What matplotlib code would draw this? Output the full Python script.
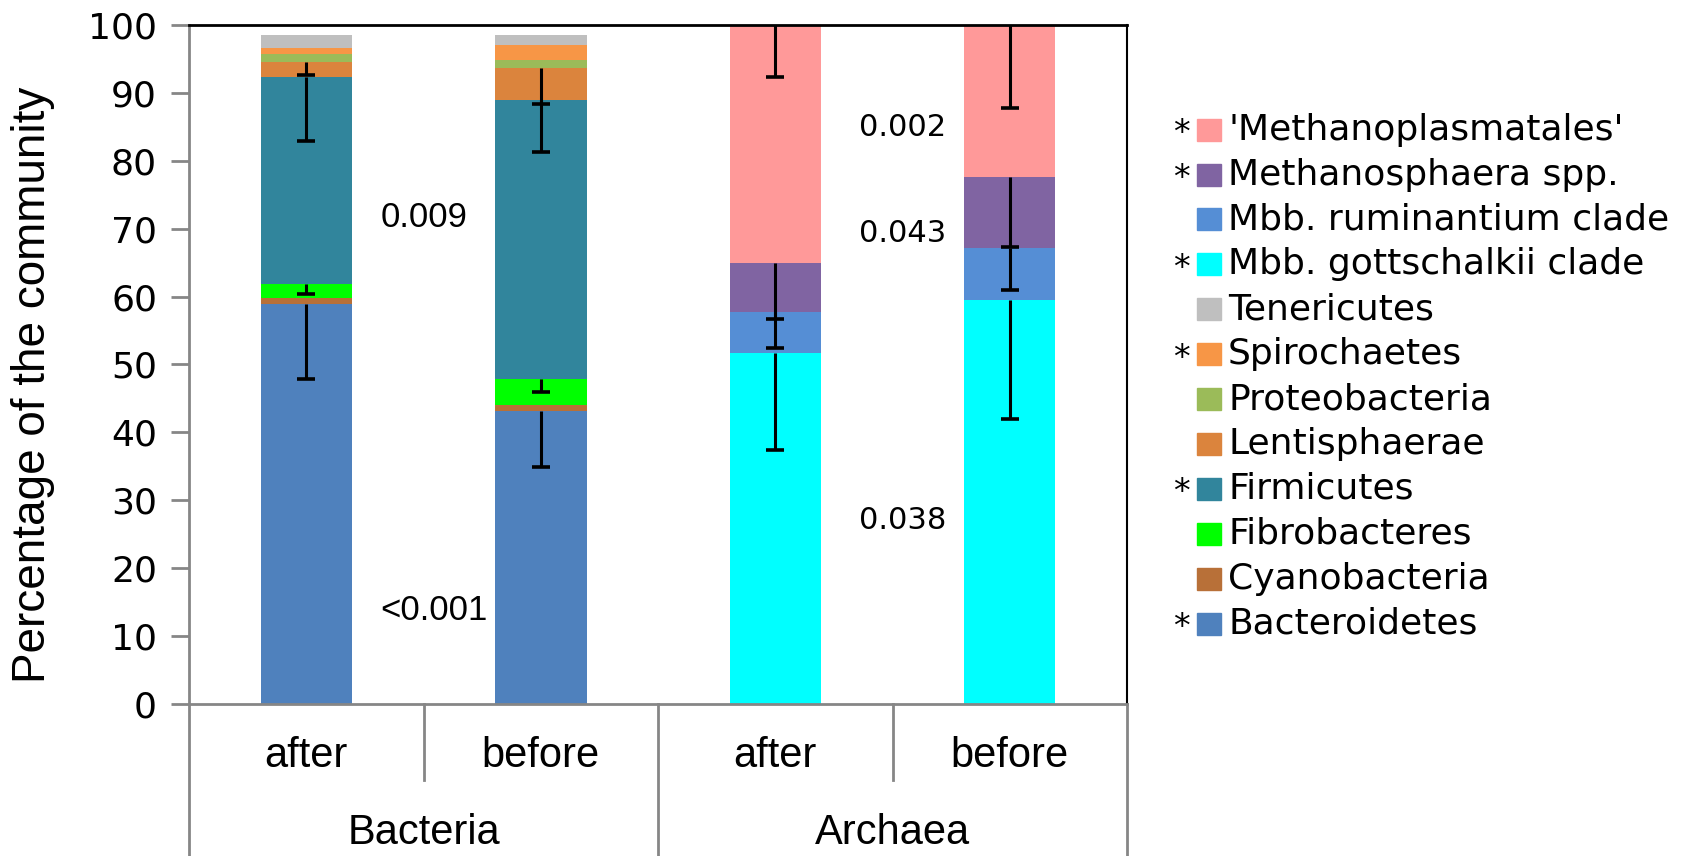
import numpy as np
import matplotlib
matplotlib.use('Agg')
import matplotlib.pyplot as plt
from matplotlib.patches import Rectangle

# bar order: Bacteria after, Bacteria before, Archaea after, Archaea before
conditions = ['after', 'before', 'after', 'before']
groups = ['Bacteria', 'Archaea']

# stacking order from bottom to top
taxa = ['Bacteroidetes', 'Cyanobacteria', 'Fibrobacteres', 'Firmicutes', 'Lentisphaerae',
        'Proteobacteria', 'Spirochaetes', 'Tenericutes', 'Mbb. gottschalkii clade',
        'Mbb. ruminantium clade', 'Methanosphaera spp.', "'Methanoplasmatales'"]
significant = [True, False, False, True, False, False, True, False, True, False, True, True]
colours = ['#4F81BD', '#B87038', '#00FF00', '#31859C', '#DB843D', '#9BBB59', '#F79646',
           '#BFBFBF', '#00FFFF', '#558ED5', '#8064A2', '#FF9999']

bacteroidetes = [58.9, 43.1, 0, 0]
cyanobacteria = [0.9, 1.0, 0, 0]
fibrobacteres = [2.1, 3.7, 0, 0]
firmicutes = [30.4, 41.1, 0, 0]
lentisphaerae = [2.2, 4.8, 0, 0]
proteobacteria = [1.3, 1.1, 0, 0]
spirochaetes = [0.8, 2.2, 0, 0]
tenericutes = [1.9, 1.5, 0, 0]
gottschalkii = [0, 0, 51.7, 59.5]
ruminantium = [0, 0, 6.0, 7.6]
methanosphaera = [0, 0, 7.3, 10.5]
methanoplasmatales = [0, 0, 35.0, 22.4]

# minus-only error bars (same order as taxa)
err_bacteroidetes = [11.1, 8.2, 0, 0]
err_cyanobacteria = [0, 0, 0, 0]
err_fibrobacteres = [1.5, 1.9, 0, 0]
err_firmicutes = [9.4, 7.6, 0, 0]
err_lentisphaerae = [1.8, 5.3, 0, 0]
err_proteobacteria = [0, 0, 0, 0]
err_spirochaetes = [0, 0, 0, 0]
err_tenericutes = [0, 0, 0, 0]
err_gottschalkii = [0, 0, 14.3, 17.6]
err_ruminantium = [0, 0, 5.3, 6.2]
err_methanosphaera = [0, 0, 8.3, 10.3]
err_methanoplasmatales = [0, 0, 7.6, 12.2]

pvalues = ['0.009', '<0.001', '0.002', '0.043', '0.038']
pvalue_x = [0.315, 0.315, 2.357, 2.357, 2.357]
pvalue_y = [71.7, 13.7, 84.9, 69.3, 27.0]

values = [bacteroidetes, cyanobacteria, fibrobacteres, firmicutes, lentisphaerae, proteobacteria,
          spirochaetes, tenericutes, gottschalkii, ruminantium, methanosphaera, methanoplasmatales]
errors = [err_bacteroidetes, err_cyanobacteria, err_fibrobacteres, err_firmicutes, err_lentisphaerae,
          err_proteobacteria, err_spirochaetes, err_tenericutes, err_gottschalkii, err_ruminantium,
          err_methanosphaera, err_methanoplasmatales]

fig = plt.figure(figsize=(16.94, 8.56), dpi=100)
ax = fig.add_axes([0.1116, 0.1776, 0.5537, 0.7932])

x = np.arange(len(conditions))
bottom = np.zeros(len(conditions))
for vals, col in zip(values, colours):
    ax.bar(x, vals, 0.39, bottom=bottom, color=col, edgecolor='none', zorder=2)
    bottom += np.array(vals)

# error bars drawn from the top of each segment, downwards only, cap at the lower end
bottom = np.zeros(len(conditions))
for vals, errs in zip(values, errors):
    top = bottom + np.array(vals)
    for i in range(len(conditions)):
        if errs[i] > 0:
            ax.errorbar(x[i], top[i], yerr=[[errs[i]], [0]], fmt='none', ecolor='black',
                        elinewidth=2.2, capsize=0, zorder=3, clip_on=False)
            ax.plot(x[i], top[i] - errs[i], marker='_', color='black', markersize=13,
                    markeredgewidth=2.6, zorder=3)
    bottom = top

for txt, tx, ty in zip(pvalues[:2], pvalue_x[:2], pvalue_y[:2]):
    ax.text(tx, ty, txt, ha='left', va='center', fontsize=25, family='Liberation Sans')
for txt, tx, ty in zip(pvalues[2:], pvalue_x[2:], pvalue_y[2:]):
    ax.text(tx, ty, txt, ha='left', va='center', fontsize=22, family='DejaVu Sans')

ax.set_xlim(-0.5, 3.5)
ax.set_ylim(0, 100)
ax.set_yticks(np.arange(0, 101, 10))
ax.set_yticklabels([str(v) for v in range(0, 101, 10)], fontsize=26, family='DejaVu Sans')
ax.tick_params(axis='y', direction='out', length=13, width=2, color='#868686', pad=10)
ax.set_xticks([])
ax.set_ylabel('Percentage of the community', fontsize=33, family='Liberation Sans')
ax.yaxis.set_label_coords(-0.143, 0.47)

ax.spines['left'].set_color('#868686')
ax.spines['left'].set_linewidth(2)
ax.spines['bottom'].set_color('#868686')
ax.spines['bottom'].set_linewidth(2)
ax.spines['top'].set_color('black')
ax.spines['top'].set_linewidth(2)
ax.spines['right'].set_color('black')
ax.spines['right'].set_linewidth(1.5)

# category axis below the plot
trans = ax.get_xaxis_transform()
for sep in [-0.5, 1.5, 3.5]:
    ax.plot([sep, sep], [0, -0.23], color='#868686', lw=2, transform=trans, clip_on=False)
for sep in [0.5, 2.5]:
    ax.plot([sep, sep], [0, -0.112], color='#868686', lw=2, transform=trans, clip_on=False)
for i, c in enumerate(conditions):
    ax.text(x[i], -0.077, c, transform=trans, ha='center', va='center', fontsize=30,
            family='Liberation Sans')
for j, g in enumerate(groups):
    ax.text(2 * j + 0.5, -0.19, g, transform=trans, ha='center', va='center', fontsize=30,
            family='Liberation Sans')

# legend, top entry is the last stacked series
W, H = 1694.0, 856.0
for k in range(len(taxa)):
    idx = len(taxa) - 1 - k
    yc = 129.6 + k * 44.9
    fig.add_artist(Rectangle((1197 / W, 1 - (yc + 11) / H), 24 / W, 22 / H,
                             transform=fig.transFigure, color=colours[idx]))
    fig.text(1228 / W, 1 - yc / H, taxa[idx], ha='left', va='center', fontsize=26,
             family='DejaVu Sans')
    if significant[idx]:
        fig.text(1181 / W, 1 - (yc + 4) / H, '*', ha='center', va='center', fontsize=24,
                 family='DejaVu Sans')

plt.savefig('out.png', dpi=100)
